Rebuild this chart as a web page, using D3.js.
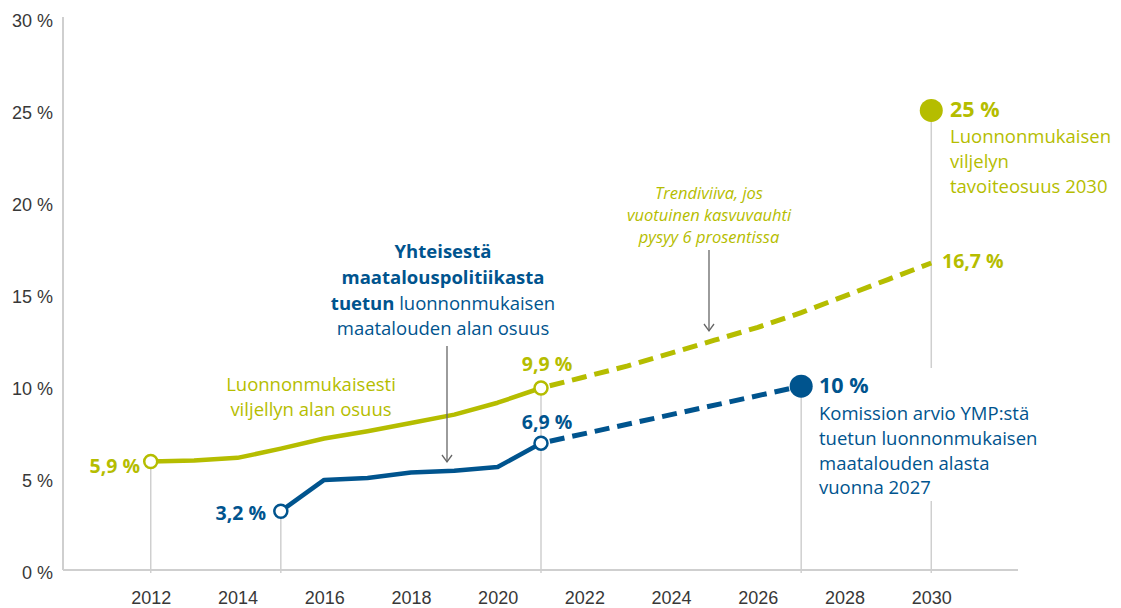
<!DOCTYPE html>
<html><head><meta charset="utf-8">
<script src="https://cdn.jsdelivr.net/npm/d3@7"></script>
<style>
body{margin:0;background:#fff;}
svg{font-family:"Open Sans",sans-serif;}
</style></head>
<body><svg id="c" width="1121" height="608"></svg>
<script>
// ---- data ----
const yearsGreen = [2012,2013,2014,2015,2016,2017,2018,2019,2020,2021];
const valuesGreen = [5.9,5.95,6.1,6.6,7.15,7.55,8.0,8.45,9.1,9.9];
const yearsBlue = [2015,2016,2017,2018,2019,2020,2021];
const valuesBlue = [3.2,4.9,5.0,5.3,5.4,5.6,6.9];
const yearsTrend = [2021,2022,2023,2024,2025,2026,2027,2028,2029,2030];
const valuesTrend = [9.9,10.5,11.1,11.8,12.5,13.2,14.0,14.9,15.8,16.7];
const yearsBlueProj = [2027];
const valuesBlueProj = [10];
const goalYear = [2030];
const goalValue = [25];
const xTicks = [2012,2014,2016,2018,2020,2022,2024,2026,2028,2030];
const yTicks = [0,5,10,15,20,25,30];

const GREEN = "#b5bd00", BLUE = "#00548e", GRID = "#cfcfcf", TXT = "#383838";
const svg = d3.select("#c");
const x = d3.scaleLinear().domain([2010,2032]).range([64,1018]);
const y = d3.scaleLinear().domain([0,30]).range([570,18.5]);

// axes
const yAxis = d3.axisLeft(y).tickValues(yTicks).tickSize(0).tickPadding(10).tickFormat(d=>d+" %");
const gy = svg.append("g").attr("transform","translate(63,0)").call(yAxis);
gy.select(".domain").remove();
gy.selectAll("text").attr("fill",TXT).style("font-size","18px").attr("dy","0.35em").attr("y",2).attr("x",-10);
const xAxis = d3.axisBottom(x).tickValues(xTicks).tickSize(0).tickPadding(0).tickFormat(d3.format("d"));
const gx = svg.append("g").attr("transform","translate(0,570)").call(xAxis);
gx.select(".domain").remove();
gx.selectAll("text").attr("fill",TXT).style("font-size","18px").attr("y",34).attr("dy",0);

// drop lines
const drops = [
  {yr:2012, top:valuesGreen[0]},
  {yr:2015, top:valuesBlue[0]},
  {yr:2021, top:valuesGreen[valuesGreen.length-1]},
  {yr:2027, top:valuesBlueProj[0]}
];
svg.append("g").selectAll("line").data(drops).join("line")
  .attr("x1",d=>x(d.yr)).attr("x2",d=>x(d.yr))
  .attr("y1",d=>y(d.top)).attr("y2",y(0)+3)
  .attr("stroke",GRID).attr("stroke-width",1.5);
// 2030 drop line with gap for text
svg.append("line").attr("x1",x(goalYear[0])).attr("x2",x(goalYear[0]))
  .attr("y1",y(goalValue[0])).attr("y2",368).attr("stroke",GRID).attr("stroke-width",1.5);
svg.append("line").attr("x1",x(goalYear[0])).attr("x2",x(goalYear[0]))
  .attr("y1",501).attr("y2",y(0)+3).attr("stroke",GRID).attr("stroke-width",1.5);

// axis lines
svg.append("line").attr("x1",63).attr("x2",63).attr("y1",17).attr("y2",y(0)).attr("stroke",GRID).attr("stroke-width",2);
svg.append("line").attr("x1",63).attr("x2",1018).attr("y1",y(0)).attr("y2",y(0)).attr("stroke",GRID).attr("stroke-width",2);

// lines
const line = d3.line().x(d=>x(d[0])).y(d=>y(d[1]));
const zip = (a,b)=>a.map((v,i)=>[v,b[i]]);
svg.append("path").datum(zip(yearsTrend,valuesTrend)).attr("d",line)
  .attr("fill","none").attr("stroke",GREEN).attr("stroke-width",5).attr("stroke-dasharray","15,8").attr("stroke-dashoffset",-9);
svg.append("path").datum([[yearsBlue[yearsBlue.length-1],valuesBlue[valuesBlue.length-1]],[yearsBlueProj[0],valuesBlueProj[0]]]).attr("d",line)
  .attr("fill","none").attr("stroke",BLUE).attr("stroke-width",5).attr("stroke-dasharray","15,8").attr("stroke-dashoffset",-9);
svg.append("path").datum(zip(yearsGreen,valuesGreen)).attr("d",line)
  .attr("fill","none").attr("stroke",GREEN).attr("stroke-width",4.5).attr("stroke-linejoin","round");
svg.append("path").datum(zip(yearsBlue,valuesBlue)).attr("d",line)
  .attr("fill","none").attr("stroke",BLUE).attr("stroke-width",4.5).attr("stroke-linejoin","round");

// open circles
const opens = [
  [yearsGreen[0],valuesGreen[0],GREEN],
  [yearsGreen[yearsGreen.length-1],valuesGreen[valuesGreen.length-1],GREEN],
  [yearsBlue[0],valuesBlue[0],BLUE],
  [yearsBlue[yearsBlue.length-1],valuesBlue[valuesBlue.length-1],BLUE]
];
svg.append("g").selectAll("circle").data(opens).join("circle")
  .attr("cx",d=>x(d[0])).attr("cy",d=>y(d[1])).attr("r",6.5)
  .attr("fill","#fff").attr("stroke",d=>d[2]).attr("stroke-width",2.5);
// filled dots
svg.append("circle").attr("cx",x(goalYear[0])).attr("cy",y(goalValue[0])).attr("r",11.5).attr("fill",GREEN);
svg.append("circle").attr("cx",x(yearsBlueProj[0])).attr("cy",y(valuesBlueProj[0])).attr("r",11.5).attr("fill",BLUE);

// arrows
function arrow(xp,y1,y2){
  svg.append("line").attr("x1",xp).attr("x2",xp).attr("y1",y1).attr("y2",y2).attr("stroke","#666").attr("stroke-width",1.3);
  svg.append("path").attr("d",`M${xp-5},${y2-7}L${xp},${y2}L${xp+5},${y2-7}`).attr("fill","none").attr("stroke","#666").attr("stroke-width",1.3);
}
arrow(447,346,462);
arrow(709,250,331);

// labels
function txt(t,xp,yp,opt){
  const e = svg.append("text").attr("x",xp).attr("y",yp).text(t)
    .attr("fill",opt.c).style("font-size",opt.s+"px")
    .attr("text-anchor",opt.a||"start").attr("dominant-baseline","central");
  if(opt.b) e.style("font-weight","700");
  if(opt.i) e.style("font-style","italic");
  return e;
}
const fmt = v=>String(v).replace(".",",")+" %";
txt(fmt(valuesGreen[0]),140,465,{c:GREEN,s:19.5,b:1,a:"end"});
txt(fmt(valuesBlue[0]),266,512,{c:BLUE,s:19.5,b:1,a:"end"});
txt(fmt(valuesGreen[valuesGreen.length-1]),547,363,{c:GREEN,s:19.5,b:1,a:"middle"});
txt(fmt(valuesBlue[valuesBlue.length-1]),547,421,{c:BLUE,s:19.5,b:1,a:"middle"});
txt(fmt(valuesTrend[valuesTrend.length-1]),942,260,{c:GREEN,s:19.5,b:1});
txt(fmt(goalValue[0]),950,108,{c:GREEN,s:21.5,b:1});
txt(fmt(valuesBlueProj[0]),819,384,{c:BLUE,s:21.5,b:1});

txt("Luonnonmukaisesti",311,383,{c:GREEN,s:18.5,a:"middle"});
txt("viljellyn alan osuus",311,408,{c:GREEN,s:18.5,a:"middle"});

txt("Yhteisestä",443,250,{c:BLUE,s:18.5,b:1,a:"middle"});
txt("maatalouspolitiikasta",443,276,{c:BLUE,s:18.5,b:1,a:"middle"});
const t3 = svg.append("text").attr("x",443).attr("y",301.5).attr("text-anchor","middle").attr("dominant-baseline","central")
  .attr("fill",BLUE).style("font-size","18.5px");
t3.append("tspan").style("font-weight","700").text("tuetun");
t3.append("tspan").text(" luonnonmukaisen");
txt("maatalouden alan osuus",443,327,{c:BLUE,s:18.5,a:"middle"});

txt("Trendiviiva, jos",709,192,{c:GREEN,s:16.5,i:1,a:"middle"});
txt("vuotuinen kasvuvauhti",709,214,{c:GREEN,s:16.5,i:1,a:"middle"});
txt("pysyy 6 prosentissa",709,236,{c:GREEN,s:16.5,i:1,a:"middle"});

txt("Luonnonmukaisen",950,135,{c:GREEN,s:18.5});
txt("viljelyn",950,160,{c:GREEN,s:18.5});
txt("tavoiteosuus 2030",950,185,{c:GREEN,s:18.5});

txt("Komission arvio YMP:stä",819,412,{c:BLUE,s:18.5});
txt("tuetun luonnonmukaisen",819,437,{c:BLUE,s:18.5});
txt("maatalouden alasta",819,462,{c:BLUE,s:18.5});
txt("vuonna 2027",819,486,{c:BLUE,s:18.5});
</script></body></html>
